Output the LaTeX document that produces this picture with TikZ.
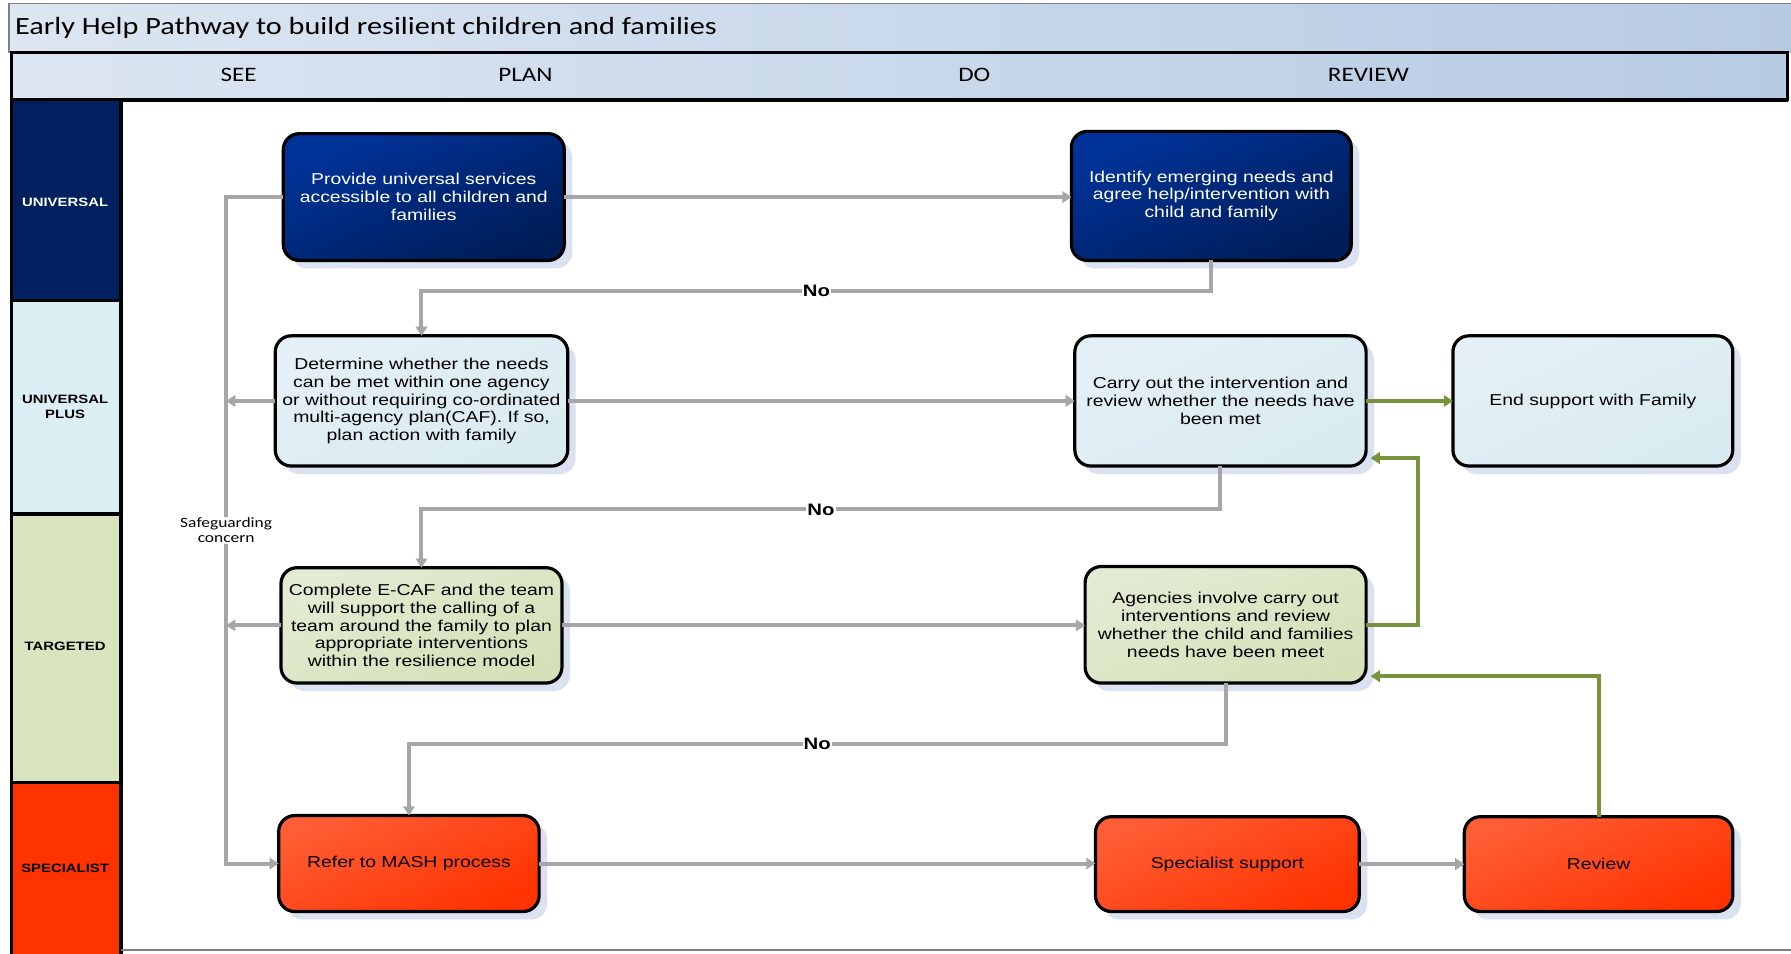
\documentclass[tikz,border=0pt]{standalone}
\usepackage{fontspec}
\usepackage{xcolor}
\usepackage{tikz}
\usetikzlibrary{positioning,arrows.meta,calc,shadows}
\newfontfamily\arialfam[FakeStretch=1.23]{Liberation Sans}
\newfontfamily\califam[FakeStretch=1.22]{Carlito}
\definecolor{ink}{HTML}{000000}
\definecolor{hdLeft}{HTML}{DCE6F2}
\definecolor{hdRight}{HTML}{B7CBE3}
\definecolor{frameGray}{HTML}{7F7F7F}
\definecolor{laneUni}{HTML}{002060}
\definecolor{lanePlus}{HTML}{DAEEF3}
\definecolor{laneTarg}{HTML}{D7E4BD}
\definecolor{laneSpec}{HTML}{FF3300}
\definecolor{uniTop}{HTML}{00339A}
\definecolor{uniBot}{HTML}{001D57}
\definecolor{plusTop}{HTML}{E4F0F5}
\definecolor{plusBot}{HTML}{D9EBF1}
\definecolor{targTop}{HTML}{E2EBD3}
\definecolor{targBot}{HTML}{D4E1B8}
\definecolor{specTop}{HTML}{FF5D35}
\definecolor{specBot}{HTML}{FF3300}
\definecolor{shadowBlue}{HTML}{DAE2F2}
\definecolor{lineGray}{HTML}{A6A6A6}
\definecolor{lineGreen}{HTML}{77933C}
\newcommand{\boxfnt}{\arialfam\fontsize{13.8}{15.7}\selectfont}
\newcommand{\lanefnt}{\arialfam\fontsize{10.6}{13}\selectfont\bfseries}
\newcommand{\hdfnt}{\califam\fontsize{18}{22}\selectfont}
\newcommand{\titlefnt}{\califam\fontsize{21.7}{26}\selectfont}
\newcommand{\sgfnt}{\califam\fontsize{12.5}{13}\selectfont}

\begin{document}
\begin{tikzpicture}[x=1pt,y=1pt,
    sbox/.style={draw=ink,line width=2.8pt,rounded corners=14pt,shape=rectangle,inner sep=2pt,
                 outer sep=0pt,anchor=north west,align=center,font=\boxfnt,
                 drop shadow={shadow xshift=7pt,shadow yshift=-7pt,fill=shadowBlue,opacity=1}},
    ubox/.style={sbox,top color=uniTop,bottom color=uniBot,shading angle=25,text=white},
    pbox/.style={sbox,top color=plusTop,bottom color=plusBot,shading angle=25,text=ink},
    tbox/.style={sbox,top color=targTop,bottom color=targBot,shading angle=25,text=ink},
    xbox/.style={sbox,top color=specTop,bottom color=specBot,shading angle=25,text=ink},
    flow/.style={-{Triangle[length=8pt,width=10pt]},line width=3.5pt,draw=lineGray},
    gflow/.style={flow,draw=lineGreen},
    nolab/.style={fill=white,inner sep=1pt,font=\arialfam\fontsize{14.5}{16}\selectfont\bfseries},
    sglab/.style={fill=white,inner sep=1pt,align=center,font=\sgfnt},
    lanelab/.style={align=center,font=\lanefnt,inner sep=0pt},
    colhead/.style={font=\hdfnt,inner sep=0pt}]

\useasboundingbox (0,0) rectangle (1568,-835);

% ======================= frame: title bar, column heads, lanes ========================
\fill[white] (0,0) rectangle (1568,-835);
\shade[left color=hdLeft,right color=hdRight] (8,-3) rectangle (1568,-46);
\draw[frameGray,line width=1.5pt] (8,-46) -- (8,-3) -- (1568,-3);
\shade[left color=hdLeft,right color=hdRight] (10,-46) rectangle (1565,-87);
\draw[ink,line width=2.2pt] (10,-46) rectangle (1565,-87);
\draw[ink,line width=3pt] (10,-87.5) -- (1565,-87.5);

\node[anchor=west,font=\titlefnt,inner sep=0pt] (title) at (13,-24) {Early Help Pathway to build resilient children and families};
\node[colhead] (hSee)    at (209,-66)  {SEE};
\node[colhead] (hPlan)   at (460,-66)  {PLAN};
\node[colhead] (hDo)     at (853,-66)  {DO};
\node[colhead] (hReview) at (1198,-66) {REVIEW};

\fill[laneUni]  (10,-88)  rectangle (106,-263);
\fill[lanePlus] (10,-263) rectangle (106,-450);
\fill[laneTarg] (10,-450) rectangle (106,-685);
\fill[laneSpec] (10,-685) rectangle (106,-840);
\draw[ink,line width=3pt] (10,-88) -- (10,-840);
\draw[ink,line width=3pt] (106,-88) -- (106,-840);
\draw[ink,line width=3pt] (10,-263) -- (106,-263);
\draw[ink,line width=3pt] (10,-450) -- (106,-450);
\draw[ink,line width=3pt] (10,-685) -- (106,-685);
\draw[frameGray,line width=2pt] (106,-832) -- (1568,-832);

\node[lanelab,text=white] (lUni)  at (57,-177) {UNIVERSAL};
\node[lanelab]            (lPlus) at (57,-356) {UNIVERSAL\\PLUS};
\node[lanelab]            (lTarg) at (57,-566) {TARGETED};
\node[lanelab]            (lSpec) at (57,-760) {SPECIALIST};

% ======================= universal =====================================================
\node[ubox,minimum width=246pt,minimum height=111pt] (u1) at (248,-117) {Provide universal services\\accessible to all children and\\families};
\node[ubox,minimum width=245pt,minimum height=113pt] (u2) at (938,-115) {Identify emerging needs and\\agree help/intervention with\\child and family};

% ======================= universal plus ================================================
\node[pbox,minimum width=256pt,minimum height=114pt] (p1) at (241,-294) {Determine whether the needs\\can be met within one agency\\or without requiring co-ordinated\\multi-agency plan(CAF). If so,\\plan action with family};
\node[pbox,minimum width=255pt,minimum height=114pt] (p2) at (941,-294) {Carry out the intervention and\\review whether the needs have\\been met};
\node[pbox,minimum width=245pt,minimum height=114pt] (p3) at (1272,-294) {End support with Family};

% ======================= targeted ======================================================
\node[tbox,minimum width=246pt,minimum height=101pt] (t1) at (246,-497) {Complete E-CAF and the team\\will support the calling of a\\team around the family to plan\\appropriate interventions\\within the resilience model};
\node[tbox,minimum width=246pt,minimum height=102pt] (t2) at (950,-496) {Agencies involve carry out\\interventions and review\\whether the child and families\\needs have been meet};

% ======================= specialist ====================================================
\node[xbox,minimum width=228pt,minimum height=84pt] (s1) at (244,-714) {Refer to MASH process};
\node[xbox,minimum width=231pt,minimum height=83pt] (s2) at (959,-715) {Specialist support};
\node[xbox,minimum width=235pt,minimum height=83pt] (s3) at (1282,-715) {Review};

% ======================= connectors ====================================================
\draw[flow] (u1.east) -- (u1.east -| u2.west);
\draw[flow] (u2.south) -- ++(0,-27) -| node[pos=0.25,nolab] {No} (p1.north);
\draw[flow] (u1.west) -- ++(-50,0) coordinate (sgTop) |- node[pos=0.25,sglab] {Safeguarding\\concern} (s1.west);
\draw[flow] (p1.west) -- (sgTop |- p1.west);
\draw[flow] (p1.east) -- (p1.east -| p2.west);
\draw[flow] (p2.south) -- ++(0,-38) -| node[pos=0.25,nolab] {No} (t1.north);
\draw[flow] (t1.west) -- (sgTop |- t1.west);
\draw[flow] (t1.east) -- (t1.east -| t2.west);
\draw[flow] (t2.south) -- ++(0,-53) -| node[pos=0.25,nolab] {No} (s1.north);
\draw[flow] (s1.east) -- (s1.east -| s2.west);
\draw[flow] (s2.east) -- (s2.east -| s3.west);

\draw[gflow] (p2.east) -- (p2.east -| p3.west);
\draw[gflow] (t2.east) -- ++(45,0) |- ($(p2.south east)+(4,7)$);
\draw[gflow] (s3.north) |- ($(t2.south east)+(4,6)$);

\end{tikzpicture}
\end{document}
